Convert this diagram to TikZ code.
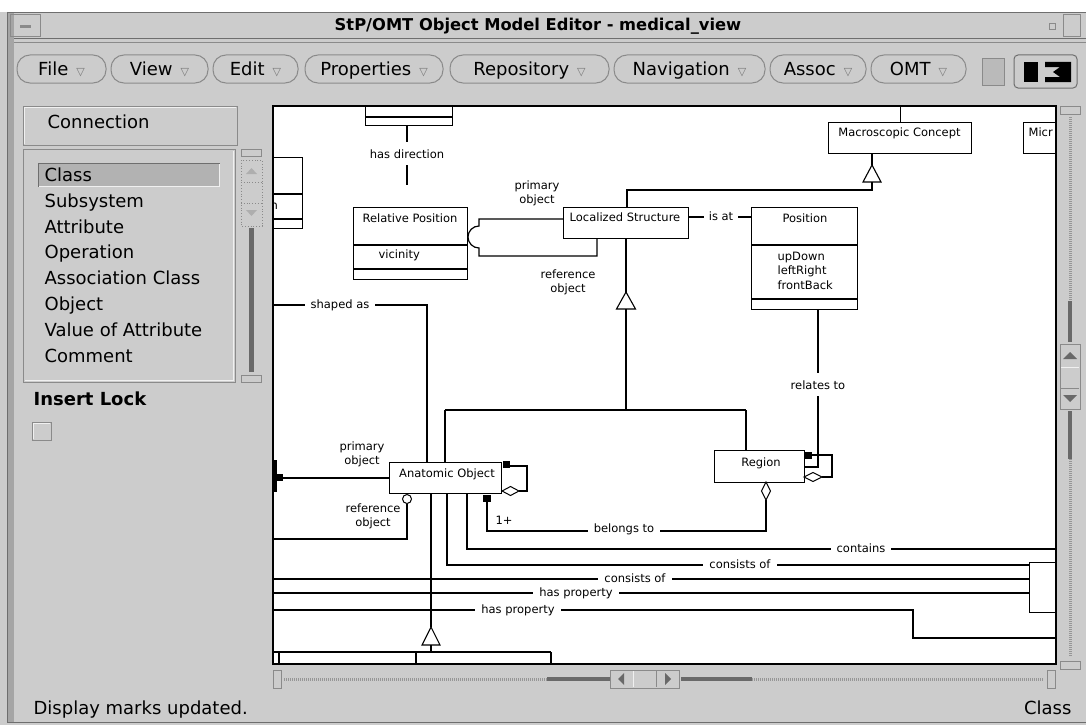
\documentclass[tikz,border=0pt]{standalone}
\usepackage{fontspec}
\setmainfont{DejaVu Sans}
\usepackage{tikz}
\usetikzlibrary{calc}
\usetikzlibrary{positioning}

\definecolor{wingray}{RGB}{204,204,204}
\definecolor{sidegray}{RGB}{165,165,165}
\definecolor{framegray}{RGB}{110,110,110}
\definecolor{edgedark}{RGB}{138,138,138}
\definecolor{edgelight}{RGB}{240,240,240}
\definecolor{selgray}{RGB}{178,178,178}
\definecolor{bardark}{RGB}{105,105,105}
\definecolor{trackgray}{RGB}{150,150,150}
\definecolor{tricolor}{RGB}{120,120,120}

\newcommand{\uifont}{\fontsize{18}{21}\selectfont}
\newcommand{\titfont}{\bfseries\fontsize{16.3}{19}\selectfont}
\newcommand{\dgfont}{\fontsize{11.5}{14}\selectfont}

\tikzset{
  uitext/.style={font=\uifont, inner sep=0pt},
  dgtext/.style={font=\dgfont, inner sep=0pt, align=center},
  lbl/.style={font=\dgfont, fill=white, inner xsep=6pt, inner ysep=2pt},
  vlbl/.style={font=\dgfont, fill=white, inner xsep=2pt, inner ysep=7pt},
  menubtn/.style={draw=edgedark, line width=1pt, fill=wingray, rounded corners=13pt,
    minimum height=28, inner sep=0pt, text height=13pt, text depth=0pt, font=\uifont},
  raised/.style={draw=edgedark, line width=1pt, fill=wingray},
  classbox/.style={draw=black, line width=1.2pt, fill=white, inner sep=0pt},
  gentri/.style={draw=black, fill=white, line width=1.1pt},
  track/.style={trackgray, line width=3pt, dash pattern=on 1pt off 1pt},
  darkbar/.style={bardark, line width=4pt},
}

\begin{document}
\begin{tikzpicture}[x=1pt,y=-1pt,line width=1.2pt]
\useasboundingbox (0,0) rectangle (1086,725);
%print window frame
\fill[white] (0,0) rectangle (1086,12);
\fill[wingray] (0,12) rectangle (1086,725);
\fill[sidegray] (7,12) rectangle (14,722);
\draw[framegray,line width=1pt] (7.5,12) -- (7.5,722);
\draw[framegray,line width=1pt] (7,12.5) -- (1086,12.5);
\draw[framegray,line width=1pt] (14,39) -- (1086,39);
\draw[edgedark,line width=1pt] (14,43) -- (1086,43);
\draw[framegray,line width=1pt] (7,722) -- (1086,722);
%title bar
\draw[edgedark,line width=1pt] (10,15) rectangle (40,37);
\fill[edgedark] (20,25.5) rectangle (31,28);
\node[font=\titfont, inner sep=0pt] (title) at (538,26) {StP/OMT Object Model Editor - medical\_view};
\draw[edgedark,line width=1pt] (1049,24) rectangle (1055,30);
\draw[edgedark,line width=1pt] (1063,15) rectangle (1080,37);
%menu buttons
\foreach \xa/\xb/\txt [count=\i] in {17/106/File,111/208/View,213/298/Edit,305/443/Properties,450/609/Repository,614/765/Navigation,770/866/Assoc,871/966/OMT}
  \node[menubtn, minimum width={\xb-\xa}] (menu\i) at ({(\xa+\xb)/2},69) {\txt\hspace{8pt}{\fontsize{11}{11}\selectfont\color{tricolor}▽}};
\draw[raised, fill=selgray!90] (982,59) rectangle (1004,85);
\draw[framegray, line width=1pt, fill=wingray, rounded corners=4pt] (1014,55) rectangle (1077,88);
\fill[black] (1024,62) rectangle (1038,82);
\fill[black] (1045,62) -- (1071,62) -- (1071,82) -- (1045,82) -- (1045,77) -- (1060,77) -- (1053,72) -- (1060,67) -- (1045,67) -- cycle;
%left panel
\draw[raised] (23,106) rectangle (237,145);
\draw[edgelight, line width=1pt] (24.5,143.5) -- (24.5,107.5) -- (235.5,107.5);
\node[uitext, anchor=base west] (conn) at (47,128.5) {Connection};
\draw[edgedark, line width=1pt] (23,149) rectangle (235,382);
\draw[edgelight, line width=1pt] (24.5,380.5) -- (233.5,380.5) -- (233.5,150.5);
\fill[selgray] (38,163) rectangle (220,187);
\draw[framegray, line width=1pt] (38.5,187) -- (38.5,163.5) -- (220,163.5);
\draw[edgelight, line width=1pt] (39,186.5) -- (219.5,186.5) -- (219.5,164);
\foreach \txt [count=\i] in {Class,Subsystem,Attribute,Operation,Association Class,Object,Value of Attribute,Comment}
  \node[uitext, anchor=base west] (item\i) at (44,{155.7+25.8*\i}) {\txt};
%list scrollbar
\draw[raised] (241,149) rectangle (261,156);
\draw[edgedark, line width=0.8pt, dotted] (241,160) rectangle (262,226);
\draw[edgedark, line width=0.8pt, dotted] (241,182) -- (262,182);
\draw[edgedark, line width=0.8pt, dotted] (241,203) -- (262,203);
\fill[tricolor!60] (246,174) -- (251.5,168) -- (257,174) -- cycle;
\fill[tricolor!60] (246,210) -- (257,210) -- (251.5,216) -- cycle;
\fill[bardark] (249,228) rectangle (254,372);
\draw[raised] (241,375) rectangle (261,382);
\node[uitext, font=\uifont\bfseries, anchor=base west] (lock) at (33,405.5) {Insert Lock};
\draw[raised] (32,422) rectangle (51,440);
\draw[edgelight, line width=1pt] (33.5,439) -- (33.5,423.5) -- (50,423.5);
%canvas
\fill[white] (273,106) rectangle (1056,664);
\begin{scope}
\clip (273,106) rectangle (1056,664);
%class boxes
\node[classbox, minimum width=87, minimum height=40, anchor=south west] (dirbox) at (365,126) {};
\draw (dirbox.west |- 0,117) -- (dirbox.east |- 0,117);
\node[classbox, minimum width=59, minimum height=71, anchor=north west] (leftbox) at (243,157) {};
\draw (leftbox.west |- 0,194) -- (leftbox.east |- 0,194);
\draw (leftbox.west |- 0,219) -- (leftbox.east |- 0,219);
\node[dgtext, anchor=base west] (leftname) at (270,209) {n};
\node[classbox, minimum width=114, minimum height=72, anchor=north west] (relpos) at (353,207) {};
\draw (relpos.west |- 0,245) -- (relpos.east |- 0,245);
\draw (relpos.west |- 0,269) -- (relpos.east |- 0,269);
\node[dgtext, anchor=base] (relposname) at (410,222) {Relative Position};
\node[dgtext, anchor=base west] (relposattr) at (378,258) {vicinity};
\node[classbox, minimum width=125, minimum height=31, anchor=north west] (locstr) at (563,207) {};
\node[dgtext, anchor=base] (locstrname) at (625,221) {Localized Structure};
\node[classbox, minimum width=106, minimum height=102, anchor=north west] (position) at (751,207) {};
\draw (position.west |- 0,245) -- (position.east |- 0,245);
\draw (position.west |- 0,299) -- (position.east |- 0,299);
\node[dgtext, anchor=base] (positionname) at (805,222) {Position};
\node[dgtext, anchor=base west] (attr1) at (777,260) {upDown};
\node[dgtext, anchor=base west] (attr2) at (777,274.5) {leftRight};
\node[dgtext, anchor=base west] (attr3) at (777,289) {frontBack};
\node[classbox, minimum width=143, minimum height=31, anchor=north west] (macro) at (828,122) {};
\node[dgtext, anchor=base] (macroname) at (899.5,136) {Macroscopic Concept};
\node[classbox, minimum width=60, minimum height=31, anchor=north west] (micro) at (1023,122) {};
\node[dgtext, anchor=base west] (microname) at (1028,136) {Micr};
\node[classbox, minimum width=90, minimum height=32, anchor=north west] (region) at (714,450) {};
\node[dgtext, anchor=base] (regionname) at (761,466) {Region};
\node[classbox, minimum width=112, minimum height=31, anchor=north west] (anatobj) at (389,462) {};
\node[dgtext, anchor=base] (anatobjname) at (447,477) {Anatomic Object};
\node[classbox, minimum width=60, minimum height=50, anchor=north west] (rightbox) at (1029,562) {};
\draw (273,652) -- (551,652);
\draw (279,652) -- (279,664);
\draw (416,652) -- (416,664);
\draw (551,652) -- (551,664);
%has direction
\draw (dirbox.south -| 407,0) -- (407,185);
\node[vlbl, anchor=base] (hasdir) at (407,158) {has direction};
%qualified association
\coordinate (qualtop) at (479,219);
\coordinate (qualbot) at (479,256);
\draw (locstr.west |- qualtop) -- (qualtop) -- (479,226) arc[start angle=-90,end angle=-270,radius=11] -- (qualbot) -- (597,256) -- (locstr.south -| 597,0);
\node[dgtext] (primlbl1) at (537,193.5) {primary\\object};
\node[dgtext] (reflbl1) at (568,282.5) {reference\\object};
%generalization to macroscopic concept
\draw (macro.north) -- (macro.north |- 0,100);
\draw (macro.south -| 872,0) -- (872,165);
\draw[gentri] (872,165) -- (881,182) -- (863,182) -- cycle;
\draw (872,182) -- (872,190) -- (627,190) -- (locstr.north -| 627,0);
%is at
\draw (locstr.east |- 0,217) -- (position.west |- 0,217);
\node[lbl, inner xsep=5pt, anchor=base] (isat) at (721,220) {is at};
%generalization to localized structure
\draw (locstr.south -| 626,0) -- (626,292);
\draw[gentri] (626,292) -- (635.5,309) -- (616.5,309) -- cycle;
\draw (626,309) -- (626,410);
\draw (445,410) -- (746,410);
\draw (445,410) -- (anatobj.north -| 445,0);
\draw (746,410) -- (region.north -| 746,0);
%relates to
\draw (position.south -| 818,0) -- (818,467) -- (region.east |- 0,467);
\node[vlbl, anchor=base] (relto) at (818,389) {relates to};
%region self association
\fill (804,451.5) rectangle (812,459);
\draw (812,455) -- (832,455) -- (832,477) -- (822,477);
\draw[fill=white, line width=1pt] (804,477) -- (813,472.5) -- (822,477) -- (813,481.5) -- cycle;
%belongs to
\draw (766,500) -- (766,531) -- (487,531) -- (487,502);
\draw[fill=white, line width=1pt] (766,482) -- (770.5,491) -- (766,500) -- (761.5,491) -- cycle;
\fill (483,495) rectangle (491,502);
\node[lbl, anchor=base] (belongs) at (624,532) {belongs to};
\node[dgtext, anchor=base west] (mult) at (495,524) {1+};
%anatomic object self association
\fill (503,461) rectangle (510,468);
\draw (510,466) -- (527,466) -- (527,491) -- (519,491);
\draw[fill=white, line width=1pt] (502,491) -- (510.5,486.5) -- (519,491) -- (510.5,495.5) -- cycle;
%primary and reference object
\fill (273,460) rectangle (276.5,492);
\fill (276,474) rectangle (283,481);
\draw (283,478) -- (anatobj.west |- 0,478);
\node[dgtext] (primlbl2) at (362,454) {primary\\object};
\draw (407,503.5) -- (407,539) -- (273,539);
\draw[fill=white, line width=1pt] (407,499) circle (4.5);
\node[dgtext] (reflbl2) at (373,516.5) {reference\\object};
%shaped as
\draw (273,305) -- (427,305) -- (anatobj.north -| 427,0);
\node[lbl, anchor=base] (shaped) at (340,308) {shaped as};
%lines below anatomic object
\draw (anatobj.south -| 431,0) -- (431,627);
\draw[gentri] (431,627) -- (440,645) -- (422,645) -- cycle;
\draw (431,645) -- (431,652);
\draw (anatobj.south -| 467,0) -- (467,549) -- (1056,549);
\node[lbl, anchor=base] (contains) at (861,552) {contains};
\draw (anatobj.south -| 447,0) -- (447,565) -- (rightbox.west |- 0,565);
\node[lbl, anchor=base] (consists1) at (740,568) {consists of};
\draw (273,579) -- (rightbox.west |- 0,579);
\node[lbl, anchor=base] (consists2) at (635,582) {consists of};
\draw (273,593) -- (rightbox.west |- 0,593);
\node[lbl, anchor=base] (hasprop1) at (576,596) {has property};
\draw (273,610) -- (913,610) -- (913,638) -- (1056,638);
\node[lbl, anchor=base] (hasprop2) at (518,613) {has property};
\end{scope}
\draw[line width=1.6pt] (273,106) rectangle (1056,664);
%vertical scrollbar
\draw[raised] (1060,106) rectangle (1080,114);
\draw[track] (1070,117) -- (1070,301);
\draw[darkbar] (1070,301) -- (1070,342);
\draw[raised] (1060,344) rectangle (1080,409);
\draw[edgelight, line width=1pt] (1061,367) -- (1079,367);
\draw[edgedark, line width=1pt] (1061,388) -- (1079,388);
\fill[bardark] (1063,359) -- (1070,352) -- (1077,359) -- cycle;
\fill[bardark] (1063,395) -- (1077,395) -- (1070,402) -- cycle;
\draw[darkbar] (1070,411) -- (1070,459);
\draw[track] (1070,459) -- (1070,657);
\draw[raised] (1060,661) rectangle (1080,669);
%horizontal scrollbar
\draw[raised] (273,670) rectangle (281,688);
\draw[track] (284,679) -- (547,679);
\draw[darkbar] (547,679) -- (610,679);
\draw[raised] (610,670) rectangle (679,688);
\draw[edgelight, line width=1pt] (633,671) -- (633,687);
\draw[edgedark, line width=1pt] (656,671) -- (656,687);
\fill[bardark] (624,673) -- (618,679) -- (624,685) -- cycle;
\fill[bardark] (665,673) -- (671,679) -- (665,685) -- cycle;
\draw[darkbar] (681,679) -- (752,679);
\draw[track] (752,679) -- (1044,679);
\draw[raised] (1047,670) rectangle (1055,688);
%status line
\node[uitext, anchor=base west] (status) at (33,714) {Display marks updated.};
\node[uitext, anchor=base east] (mode) at (1072,714) {Class};
\end{tikzpicture}
\end{document}
